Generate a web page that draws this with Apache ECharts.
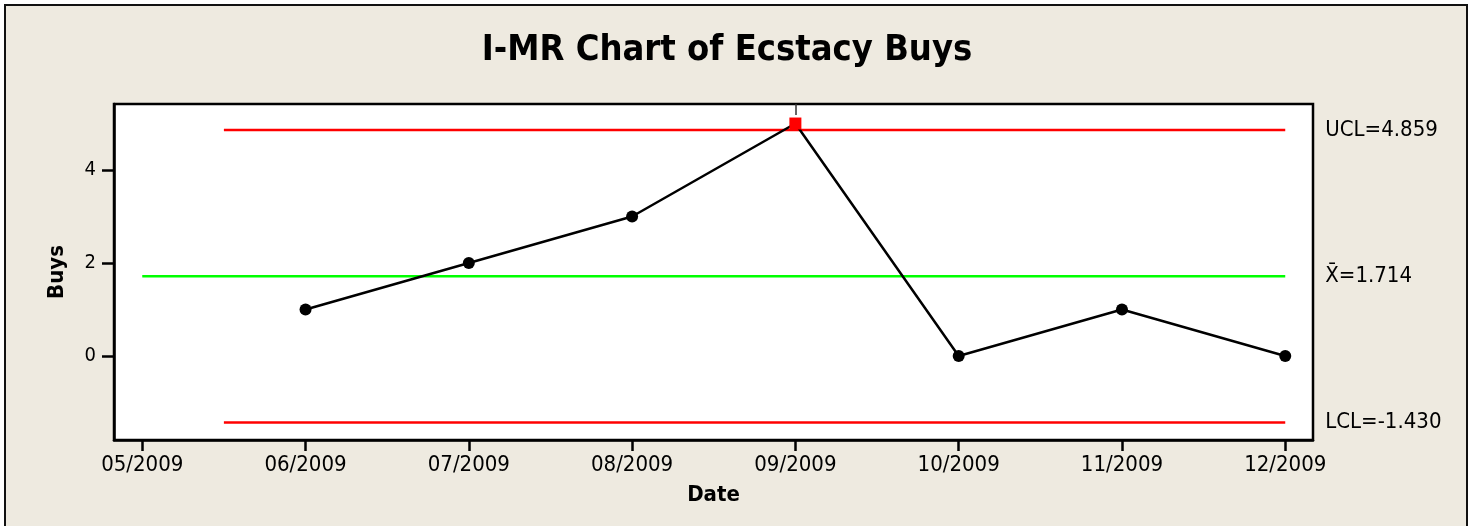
<!DOCTYPE html>
<html>
<head>
<meta charset="utf-8">
<script src="https://cdn.jsdelivr.net/npm/echarts@6/dist/echarts.min.js"></script>
<style>
html,body{margin:0;padding:0;background:#ffffff;}
#chart{width:1475px;height:526px;}
</style>
</head>
<body>
<div id="chart"></div>
<script>
// ---- data ----
const tickLabels = ['05/2009','06/2009','07/2009','08/2009','09/2009','10/2009','11/2009','12/2009'];
const dates = ['06/2009','07/2009','08/2009','09/2009','10/2009','11/2009','12/2009'];
const buys = [1, 2, 3, 5, 0, 1, 0];
const yTicks = [0, 2, 4];
const ucl = 4.859;
const centerLine = 1.714;
const lcl = -1.430;
const limitStart = 0.5;   // control limits start half a period before first point
const centerStart = 0;    // centre line starts at first axis tick
const titleText = 'I-MR Chart of Ecstacy Buys';

const FONT = "'DejaVu Sans Condensed', 'DejaVu Sans', sans-serif";
const xIdx = dates.map(d => tickLabels.indexOf(d));
const lastX = xIdx[xIdx.length - 1];
const outIdx = [];
buys.forEach((v, i) => { if (v > ucl || v < lcl) outIdx.push(xIdx[i]); });

function limitLine(name, y, x0, color, labelText) {
  return {
    name: name, type: 'line', xAxisIndex: 0, yAxisIndex: 0,
    symbol: 'none', silent: true, z: 2,
    lineStyle: { color: color, width: 2.5 },
    endLabel: { show: true, distance: 40, formatter: labelText,
                color: '#000', fontFamily: FONT, fontSize: 22 },
    data: [[x0, y], [lastX, y]]
  };
}

const chart = echarts.init(document.getElementById('chart'), null, { renderer: 'canvas' });
chart.setOption({
  animation: false,
  backgroundColor: '#ffffff',
  graphic: [
    { type: 'rect', z: -10, shape: { x: 5, y: 5, width: 1462, height: 540 },
      style: { fill: '#EEEAE0', stroke: '#111', lineWidth: 2 } },
    { type: 'text', z: 10, x: 727, y: 51,
      style: { text: titleText, fontFamily: FONT, fontWeight: 'bold', fontSize: 36,
               fill: '#000', align: 'center', verticalAlign: 'middle' } }
  ],
  grid: { left: 114, right: 162, top: 104, bottom: 86, show: true,
          backgroundColor: '#ffffff', borderColor: '#000', borderWidth: 2.5 },
  xAxis: [
    { type: 'value', min: -0.173, max: 7.17, position: 'bottom',
      name: 'Date', nameLocation: 'middle', nameGap: 44,
      nameTextStyle: { fontFamily: FONT, fontWeight: 'bold', fontSize: 22, color: '#000' },
      axisLine: { show: true, onZero: false, lineStyle: { color: '#000', width: 2.5 } },
      axisTick: { show: true, inside: false, length: 11, customValues: tickLabels.map((t, i) => i),
                  lineStyle: { color: '#000', width: 2.5 } },
      axisLabel: { show: true, margin: 14, customValues: tickLabels.map((t, i) => i),
                   formatter: v => tickLabels[Math.round(v)] || '',
                   fontFamily: FONT, fontSize: 22, color: '#000' },
      splitLine: { show: false } },
    { type: 'value', min: -0.173, max: 7.17, position: 'top',
      axisLine: { show: false, onZero: false },
      axisTick: { show: true, inside: true, length: 11, customValues: outIdx,
                  lineStyle: { color: '#333', width: 1.5 } },
      axisLabel: { show: false },
      splitLine: { show: false } }
  ],
  yAxis: {
    type: 'value', min: -1.806, max: 5.42,
    name: 'Buys', nameLocation: 'middle', nameGap: 46, nameRotate: 90,
    nameTextStyle: { fontFamily: FONT, fontWeight: 'bold', fontSize: 22, color: '#000' },
    axisLine: { show: true, onZero: false, lineStyle: { color: '#000', width: 2.5 } },
    axisTick: { show: true, length: 12, customValues: yTicks, lineStyle: { color: '#000', width: 2.5 } },
    axisLabel: { show: true, margin: 18, customValues: yTicks,
                 fontFamily: FONT, fontSize: 20, color: '#000' },
    splitLine: { show: false }
  },
  series: [
    limitLine('UCL', ucl, limitStart, '#FF0000', 'UCL=' + ucl.toFixed(3)),
    limitLine('LCL', lcl, limitStart, '#FF0000', 'LCL=' + lcl.toFixed(3)),
    limitLine('Mean', centerLine, centerStart, '#00FF00', 'X\u0304=' + centerLine.toFixed(3)),
    {
      name: 'Buys', type: 'line', z: 5,
      lineStyle: { color: '#000', width: 2.5 },
      symbolSize: 12,
      data: buys.map((v, i) => {
        const out = v > ucl || v < lcl;
        return {
          value: [xIdx[i], v],
          symbol: out ? 'rect' : 'circle',
          itemStyle: { color: out ? '#FF0000' : '#000', borderWidth: 0 }
        };
      })
    }
  ]
});
</script>
</body>
</html>
